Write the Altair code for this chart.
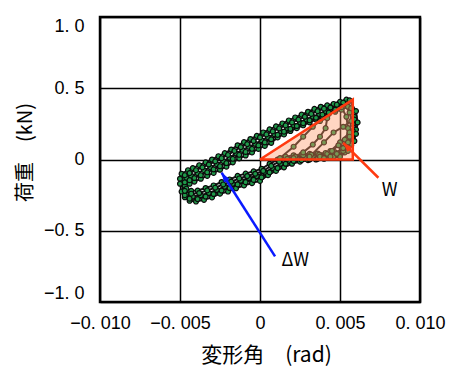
import altair as alt
import pandas as pd

# ---------------- data ----------------
x_c1 = [-0.0048,-0.0046,-0.0043,-0.0039,-0.0035,-0.0031,-0.0027,-0.0023,-0.0019,-0.0015,-0.0011,-0.0007,-0.0003,0.0001,0.0005,0.0009,0.0013,0.0017,0.0021,0.0025,0.0029,0.0033,0.0037,0.0041,0.0045,0.0049,0.0053,
        0.0056,0.0058,0.0058,0.0057,0.0053,0.0048,0.0043,0.0038,0.0033,0.0028,0.0023,0.0018,0.0013,0.0008,0.0003,-0.0002,-0.0007,-0.0012,-0.0017,-0.0022,-0.0027,-0.0032,-0.0037,-0.0042,-0.0046,-0.0048]
y_c1 = [-0.14,-0.13,-0.115,-0.095,-0.075,-0.055,-0.033,-0.011,0.013,0.043,0.067,0.089,0.11,0.135,0.156,0.177,0.198,0.219,0.24,0.26,0.28,0.30,0.318,0.337,0.355,0.373,0.39,
        0.33,0.25,0.17,0.10,0.05,0.035,0.027,0.023,0.02,0.015,0.008,-0.01,-0.03,-0.06,-0.09,-0.116,-0.13,-0.148,-0.17,-0.19,-0.213,-0.235,-0.25,-0.26,-0.245,-0.22]

x_c2 = [-0.0047,-0.0044,-0.0041,-0.0037,-0.0033,-0.0029,-0.0025,-0.0021,-0.0017,-0.0013,-0.0009,-0.0005,-0.0001,0.0003,0.0007,0.0011,0.0015,0.0019,0.0023,0.0027,0.0031,0.0035,0.0039,0.0043,0.0047,0.0051,0.0055,
        0.0059,0.0060,0.0059,0.0055,0.0050,0.0045,0.0040,0.0035,0.0030,0.0025,0.0020,0.0015,0.0010,0.0005,0.0000,-0.0005,-0.0010,-0.0015,-0.0020,-0.0025,-0.0030,-0.0035,-0.0040,-0.0044,-0.0047,-0.0049]
y_c2 = [-0.185,-0.17,-0.155,-0.135,-0.115,-0.094,-0.072,-0.05,-0.02,0.008,0.028,0.05,0.074,0.095,0.117,0.155,0.176,0.20,0.22,0.24,0.26,0.28,0.30,0.32,0.335,0.35,0.37,
        0.30,0.21,0.13,0.06,0.02,0.01,0.005,0.0,-0.005,-0.015,-0.03,-0.055,-0.08,-0.11,-0.15,-0.166,-0.182,-0.202,-0.225,-0.24,-0.266,-0.283,-0.295,-0.29,-0.265,-0.225]

x_c3 = [-0.0049,-0.0045,-0.0042,-0.0038,-0.0034,-0.0030,-0.0026,-0.0022,-0.0018,-0.0014,-0.0010,-0.0006,-0.0002,0.0002,0.0006,0.0010,0.0014,0.0018,0.0022,0.0026,0.0030,0.0034,0.0038,0.0042,0.0046,0.0050,0.0054,
        0.0057,0.0059,0.0058,0.0056,0.0051,0.0046,0.0041,0.0036,0.0031,0.0026,0.0021,0.0016,0.0011,0.0006,0.0001,-0.0004,-0.0009,-0.0014,-0.0019,-0.0024,-0.0029,-0.0034,-0.0039,-0.0043,-0.0046,-0.0049]
y_c3 = [-0.10,-0.075,-0.06,-0.04,-0.02,0.0,0.023,0.045,0.07,0.10,0.122,0.144,0.166,0.19,0.212,0.233,0.253,0.274,0.295,0.315,0.335,0.355,0.37,0.38,0.39,0.405,0.42,
        0.36,0.28,0.20,0.12,0.06,0.053,0.046,0.042,0.04,0.035,0.03,0.02,0.0,-0.03,-0.065,-0.083,-0.099,-0.115,-0.14,-0.158,-0.182,-0.2,-0.218,-0.22,-0.205,-0.16]

x_c4 = [-0.0047,-0.0044,-0.0041,-0.0037,-0.0033,-0.0029,-0.0025,-0.0021,-0.0017,-0.0013,-0.0009,-0.0005,-0.0001,0.0003,0.0007,0.0011,0.0015,0.0019,0.0023,0.0027,0.0031,0.0035,0.0039,0.0043,0.0047,0.0051,
        0.0054,0.0055,0.0054,0.0051,0.0046,0.0041,0.0036,0.0031,0.0026,0.0021,0.0016,0.0011,0.0006,0.0001,-0.0004,-0.0009,-0.0014,-0.0019,-0.0024,-0.0029,-0.0034,-0.0039,-0.0044,-0.0047]
y_c4 = [-0.16,-0.145,-0.13,-0.11,-0.09,-0.069,-0.047,-0.025,0.005,0.033,0.053,0.075,0.099,0.12,0.142,0.173,0.195,0.215,0.235,0.255,0.275,0.293,0.315,0.33,0.35,0.367,
        0.30,0.22,0.14,0.08,0.02,0.01,0.005,0.0,-0.005,-0.01,-0.03,-0.06,-0.09,-0.125,-0.143,-0.159,-0.175,-0.2,-0.218,-0.242,-0.26,-0.278,-0.275,-0.25]

x_c5 = [-0.0050,-0.0047,-0.0044,-0.0040,-0.0036,-0.0032,-0.0028,-0.0024,-0.0020,-0.0016,-0.0012,-0.0008,-0.0004,0.0000,0.0004,0.0008,0.0012,0.0016,0.0020,0.0024,0.0028,0.0032,0.0036,0.0040,0.0044,0.0048,0.0052,0.0056,
        0.0060,0.0061,0.0060,0.0057,0.0052,0.0047,0.0042,0.0037,0.0032,0.0027,0.0022,0.0017,0.0012,0.0007,0.0002,-0.0003,-0.0008,-0.0013,-0.0018,-0.0023,-0.0028,-0.0033,-0.0038,-0.0043,-0.0047,-0.0050]
y_c5 = [-0.135,-0.11,-0.095,-0.075,-0.055,-0.035,-0.013,0.009,0.032,0.06,0.087,0.108,0.13,0.155,0.176,0.197,0.218,0.239,0.26,0.28,0.30,0.32,0.339,0.357,0.365,0.385,0.40,0.415,
        0.34,0.26,0.18,0.11,0.06,0.05,0.04,0.035,0.035,0.03,0.02,0.005,-0.015,-0.045,-0.08,-0.10,-0.116,-0.133,-0.155,-0.175,-0.198,-0.217,-0.235,-0.24,-0.22,-0.17]

x_sa = [0.00125,0.0021,0.0027,0.0033,0.00375,0.0042,0.0041,0.00375,0.0033,0.0027,0.0021]
y_sa = [0.01,0.09,0.16,0.23,0.27,0.29,0.22,0.16,0.105,0.05,0.01]

x_sb = [0.0031,0.0040,0.0046,0.0052,0.0057,0.0056,0.0050,0.0044,0.00375]
y_sb = [0.02,0.12,0.19,0.23,0.27,0.19,0.12,0.06,0.02]

x_sc = [0.0040,0.0045,0.0049,0.0053,0.0056,0.0055,0.0052,0.0048,0.0044]
y_sc = [0.01,0.06,0.10,0.14,0.16,0.12,0.08,0.04,0.02]

tri_x = [0.0, 0.0058, 0.0058, 0.0]
tri_y = [0.0, 0.42, 0.0, 0.0]

x_ticks = [-0.01, -0.005, 0.0, 0.005, 0.01]
x_tick_labels = ["−0. 010", "−0. 005", "0", "0. 005", "0. 010"]
y_ticks = [-1.0, -0.5, 0.0, 0.5, 1.0]
y_tick_labels = ["−1. 0", "−0. 5", "0", "0. 5", "1. 0"]

labels_text = ["W", "ΔW"]
labels_x = [0.0081, 0.0022]
labels_y = [-0.22, -0.715]

# arrows: tail -> head
arrow_w = {"x": 0.0074, "y": -0.128, "x2": 0.0052, "y2": 0.117}
arrow_dw = {"x": 0.00094, "y": -0.68, "x2": -0.0024, "y2": -0.093}

# ---------------- tables ----------------
rows = []
for name, xs, ys in [("c1", x_c1, y_c1), ("c2", x_c2, y_c2), ("c3", x_c3, y_c3),
                     ("c4", x_c4, y_c4), ("c5", x_c5, y_c5),
                     ("sa", x_sa, y_sa), ("sb", x_sb, y_sb), ("sc", x_sc, y_sc)]:
    for i, (a, b) in enumerate(zip(xs, ys)):
        rows.append({"cyc": name, "seq": i, "x": a, "y": b})
df = pd.DataFrame(rows)

tri = pd.DataFrame({"x": tri_x, "y": tri_y, "seq": list(range(len(tri_x)))})
tri_area = pd.DataFrame({"x": [0.0, 0.0058], "y": [0.0, 0.42], "y0": [0.0, 0.0]})
lab = pd.DataFrame({"x": labels_x, "y": labels_y, "t": labels_text})


def mk_expr(vals, labs):
    parts = []
    for v, l in zip(vals[:-1], labs[:-1]):
        parts.append(f"abs(datum.value - ({v})) < 1e-9 ? '{l}' : ")
    return "".join(parts) + f"'{labs[-1]}'"


LABEL_FONT = "Liberation Sans"
TITLE_FONT = "Noto Sans CJK JP"

xs_ = alt.Scale(domain=[-0.01, 0.01], nice=False, zero=False)
ys_ = alt.Scale(domain=[-1, 1], nice=False, zero=False)

x_axis = alt.Axis(values=x_ticks, labelExpr=mk_expr(x_ticks, x_tick_labels),
                  grid=True, gridColor="black", gridWidth=1.5, gridOpacity=1,
                  ticks=False, domain=False, labelOverlap=False, labelFlush=False,
                  labelFont=LABEL_FONT, labelFontSize=18, labelColor="black",
                  labelPadding=12,
                  title="変形角　(rad)", titleFont=TITLE_FONT, titleFontSize=21,
                  titleFontWeight="normal", titleColor="black",
                  titleX=166, titleY=53, titleBaseline="middle", titleAlign="center")
y_axis = alt.Axis(values=y_ticks, labelExpr=mk_expr(y_ticks, y_tick_labels),
                  grid=True, gridColor="black", gridWidth=1.5, gridOpacity=1,
                  ticks=False, domain=False, labelFlush=True, labelOverlap=False,
                  labelFont=LABEL_FONT, labelFontSize=18, labelColor="black",
                  labelPadding=16,
                  title="荷重　(kN)", titleFont=TITLE_FONT, titleFontSize=20,
                  titleFontWeight="normal", titleColor="black",
                  titleX=-75, titleY=135, titleAngle=270, titleBaseline="middle", titleAlign="center")

X = alt.X("x:Q", scale=xs_, axis=x_axis)
Y = alt.Y("y:Q", scale=ys_, axis=y_axis)

lines = alt.Chart(df).mark_line(color="#141414", strokeWidth=2.0).encode(
    x=X, y=Y, detail="cyc:N", order="seq:Q")
pts = alt.Chart(df).mark_point(filled=True, shape="circle", size=24, fill="#1f9a4a",
                               stroke="#0a0a0a", strokeWidth=1.2, opacity=1).encode(x=X, y=Y)

tri_fill = alt.Chart(tri_area).mark_area(color="#ff9966", opacity=0.4).encode(
    x=X, y=Y, y2="y0:Q")
tri_line = alt.Chart(tri).mark_line(color="#ff3a10", strokeWidth=2.5).encode(
    x=X, y=Y, order="seq:Q")

arr_w_line = alt.Chart(pd.DataFrame([arrow_w])).mark_rule(color="#ff3a10", strokeWidth=2.5).encode(
    x=X, y=Y, x2="x2:Q", y2="y2:Q")
arr_w_head = alt.Chart(pd.DataFrame([{"x": arrow_w["x2"], "y": arrow_w["y2"]}])).mark_point(
    shape="M0,0L0.7,2L-0.7,2Z", filled=True, color="#ff3a10", size=90, angle=315, opacity=1).encode(x=X, y=Y)

arr_dw_line = alt.Chart(pd.DataFrame([arrow_dw])).mark_rule(color="#0a1aff", strokeWidth=2.5).encode(
    x=X, y=Y, x2="x2:Q", y2="y2:Q")
arr_dw_head = alt.Chart(pd.DataFrame([{"x": arrow_dw["x2"], "y": arrow_dw["y2"]}])).mark_point(
    shape="M0,0L0.7,2L-0.7,2Z", filled=True, color="#0a1aff", size=90, angle=327, opacity=1).encode(x=X, y=Y)

texts = alt.Chart(lab).mark_text(font="Noto Sans CJK JP", fontSize=18, color="black",
                                 align="center", baseline="middle").encode(x=X, y=Y, text="t:N")

chart = alt.layer(lines, pts, tri_fill, tri_line, arr_w_line, arr_w_head,
                  arr_dw_line, arr_dw_head, texts).properties(
    width=320, height=285,
    autosize=alt.AutoSizeParams(type="none"),
    padding={"left": 100, "top": 17, "right": 29, "bottom": 77},
    background="white",
).configure_view(stroke="black", strokeWidth=2.5)

chart.save("out.html", embed_options={"renderer": "svg", "actions": False})
